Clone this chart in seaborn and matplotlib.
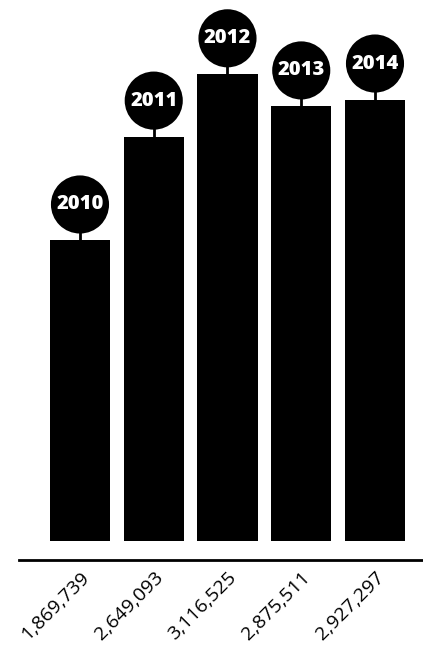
import matplotlib
matplotlib.use("Agg")
import matplotlib.pyplot as plt
from matplotlib.transforms import offset_copy
import seaborn as sns

# data
years = ["2010", "2011", "2012", "2013", "2014"]
values = [1869739, 2649093, 3116525, 2875511, 2927297]
value_labels = ["1,869,739", "2,649,093", "3,116,525", "2,875,511", "2,927,297"]

sns.set_style("white")
plt.rcParams["font.family"] = ["Open Sans", "DejaVu Sans"]

fig = plt.figure(figsize=(4.23, 6.55), dpi=100)
ax = fig.add_axes([19 / 423, 114 / 655, 404 / 423, 541 / 655])

sns.barplot(x=years, y=values, color="black", saturation=1, width=0.814, ax=ax)

# value scale does not start at zero in the original
ylo, yhi = -385000, 3674000
for p in ax.patches:
    h = p.get_height()
    p.set_y(ylo)
    p.set_height(h - ylo)
    p.set_edgecolor("none")

ax.set_ylim(ylo, yhi)
ax.set_xlim(-0.827, 4.651)

xs = list(range(len(years)))

# year bubbles above each bar
circ_tr = offset_copy(ax.transData, fig=fig, x=0, y=36, units="dots")
stem_tr = offset_copy(ax.transData, fig=fig, x=0, y=4, units="dots")
ax.scatter(xs, values, s=52, marker="|", color="black", linewidths=2,
           transform=stem_tr, clip_on=False, zorder=3)
ax.scatter(xs, values, s=1750, color="black", edgecolors="none",
           transform=circ_tr, clip_on=False, zorder=4)
for x, v, yr in zip(xs, values, years):
    ax.text(x, v, yr, transform=circ_tr, ha="center", va="center",
            color="white", fontweight="heavy", fontsize=14.5, zorder=5)

# axis styling
for s in ["top", "right", "left"]:
    ax.spines[s].set_visible(False)
ax.spines["bottom"].set_position(("outward", 14))
ax.spines["bottom"].set_linewidth(2)
ax.spines["bottom"].set_color("black")
ax.set_yticks([])
ax.set_xticks(xs)
ax.set_xticklabels(value_labels, rotation=45, ha="right", va="top",
                   rotation_mode="anchor", fontsize=14, color="black")
ax.tick_params(axis="x", length=0, pad=6)
ax.set_xlabel("")
ax.set_ylabel("")

fig.savefig("out.png", dpi=100)
